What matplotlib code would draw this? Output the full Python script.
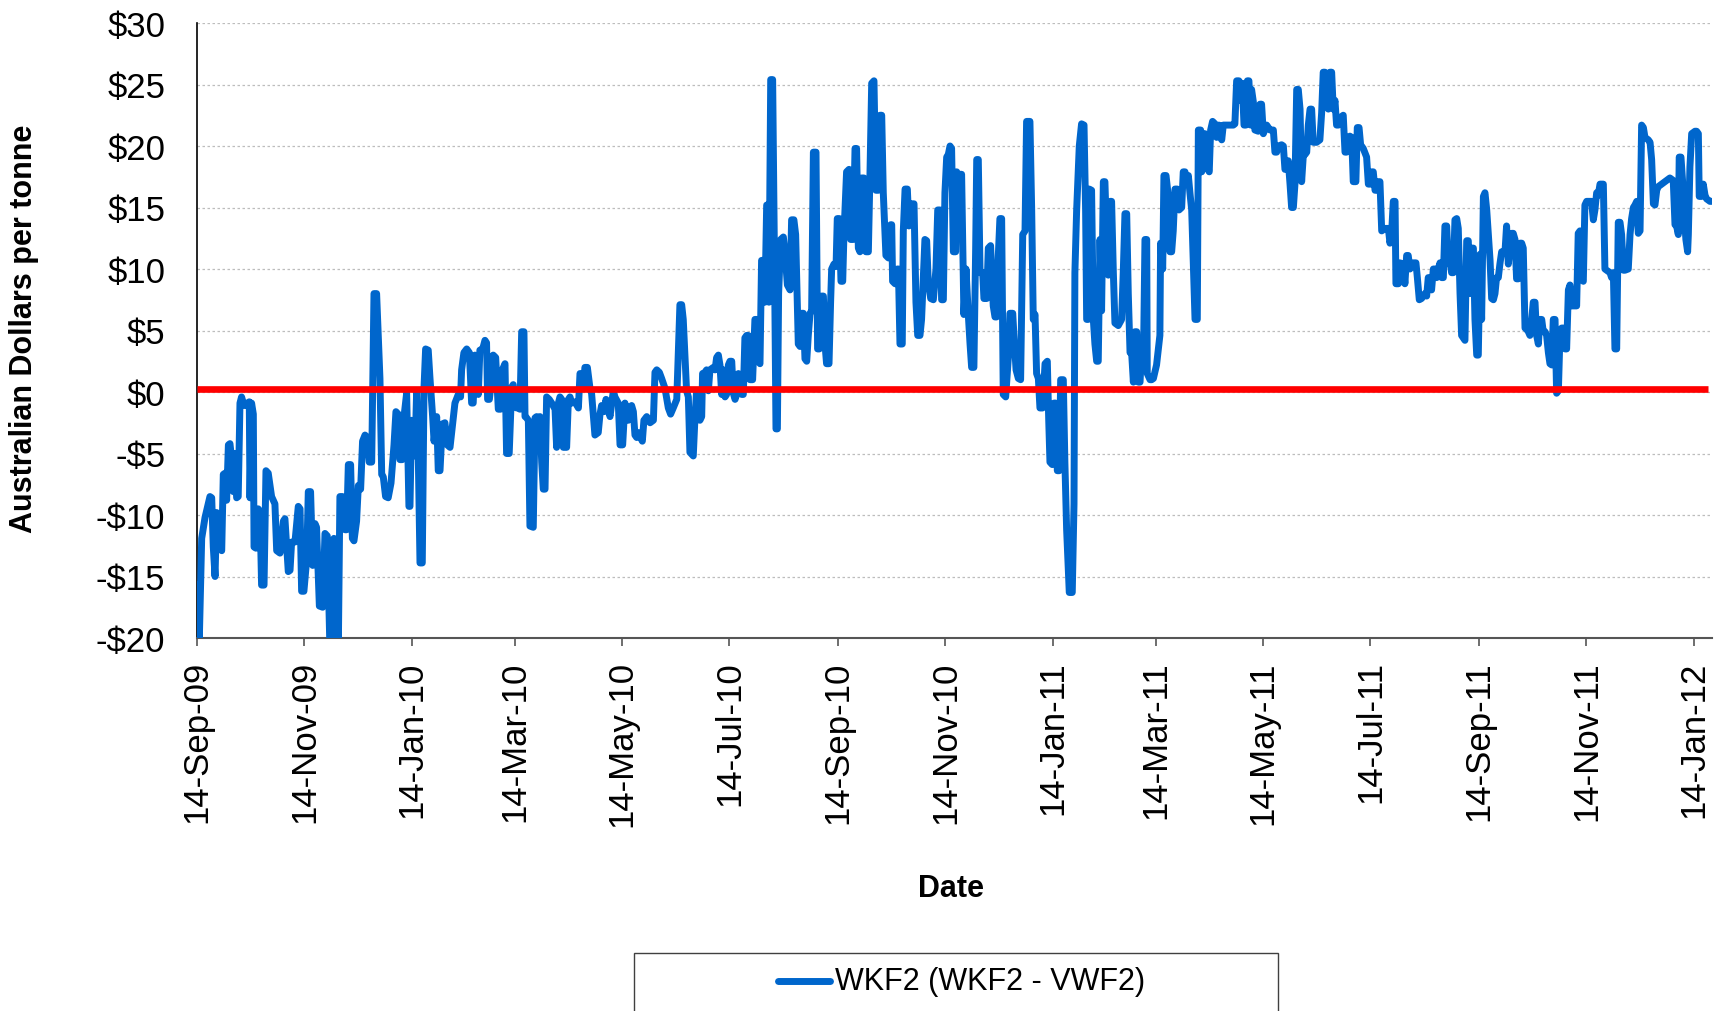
import datetime as dt
import matplotlib
matplotlib.use("Agg")
import matplotlib.pyplot as plt
from matplotlib.patches import Rectangle
from matplotlib.lines import Line2D
from matplotlib.ticker import FuncFormatter

plt.rcParams['font.family'] = ['Liberation Sans', 'DejaVu Sans']

# ---------------- data ----------------
start_date = "14-Sep-09"          # day 0 of the series
series_name = "WKF2 (WKF2 - VWF2)"

# [days after start, A$/t]
seg1 = [[0, -15.7], [1.1, -20.4], [2.5, -11.9], [4.4, -10.2], [7.2, -8.5], [8.2, -8.6], [9.1, -12.6],
        [10.1, -15.0], [11.0, -9.8], [12.0, -10.0], [12.9, -12.6], [13.9, -12.9], [14.8, -6.7], [15.8, -6.6],
        [16.7, -8.8], [17.7, -4.3], [18.6, -4.2], [19.5, -5.4], [20.5, -8.1], [21.4, -5.0], [22.4, -8.6],
        [23.3, -8.5], [24.3, -0.9], [25.2, -0.4], [26.2, -0.9], [27.1, -1.1], [28.5, -0.9], [29.6, -0.8],
        [30.0, -8.6], [30.9, -0.9], [31.9, -1.8], [32.3, -12.6], [33.4, -12.7], [34.7, -9.5], [35.7, -9.7],
        [36.6, -15.7], [38.0, -15.7], [39.1, -6.4], [40.4, -6.6], [42.3, -8.5], [44.2, -9.1], [45.2, -12.9],
        [47.1, -13.1], [49.0, -10.5], [49.9, -10.3], [51.8, -14.6], [52.8, -14.5], [53.7, -12.2], [55.6, -12.2],
        [57.5, -9.3], [58.5, -9.5], [59.4, -16.2], [60.7, -16.2], [62.3, -13.6], [63.2, -8.1], [64.5, -8.1],
        [65.7, -14.1], [67.0, -10.7], [67.9, -11.0], [69.5, -17.4], [71.4, -17.5], [72.7, -11.5], [74.0, -11.7],
        [75.5, -20.8], [77.4, -20.8], [77.8, -11.9], [79.3, -12.2], [80.3, -20.8], [81.2, -8.5], [82.7, -8.5],
        [84.1, -11.2], [85.0, -11.2], [86.0, -5.9], [87.3, -5.9], [88.3, -11.9], [89.2, -12.1], [90.7, -10.5],
        [91.7, -7.6], [93.0, -7.9], [94.1, -4.0], [95.5, -3.5], [96.8, -3.7], [97.9, -5.7], [99.3, -5.7],
        [100.6, 8.0], [102.1, 8.0], [104.0, 1.1], [105.0, -6.7], [105.9, -6.9], [107.2, -8.5], [108.7, -8.6],
        [110.3, -7.4], [112.0, -4.3], [113.1, -1.6], [114.4, -1.8], [115.4, -5.5], [116.7, -5.5], [117.7, -2.0],
        [119.2, -0.1], [120.5, -9.3], [121.1, -9.3], [122.0, -2.3], [123.0, -5.0], [123.9, -5.2], [124.9, 0.1],
        [125.8, -5.0], [126.8, -13.9], [128.1, -13.9], [129.1, 0.4], [130.0, 3.5], [131.5, 3.4], [132.5, 1.1],
        [134.0, -2.0], [134.8, -4.0], [136.3, -2.0], [137.2, -6.4], [138.2, -6.4], [139.5, -2.6], [141.0, -2.5],
        [142.3, -4.3], [143.9, -4.5], [145.4, -2.6], [146.7, -0.9], [148.6, -0.2], [149.9, -0.4], [150.5, 1.8],
        [151.8, 3.2], [153.4, 3.5], [154.9, 3.2], [156.2, -0.9], [157.1, -0.9], [158.1, 3.0], [159.0, 2.8],
        [160.0, -0.2], [160.9, 3.4], [162.5, 3.5], [163.8, 4.2], [164.7, 4.0], [165.3, -0.6], [166.3, -0.6],
        [167.6, 1.1], [168.5, 3.0], [169.9, 2.8], [171.4, -1.4], [172.7, -1.4], [173.7, 1.8], [175.2, 2.3],
        [176.1, -5.0], [177.6, -5.0]]

seg2 = [[179.0, 0.4], [179.9, 0.6], [180.9, -1.1], [181.8, -1.3], [182.8, -0.9], [183.7, -1.4], [184.7, 4.9],
        [186.0, 4.9], [186.6, -2.0], [187.5, -2.1], [188.5, -2.3], [189.4, -10.9], [191.3, -11.0], [192.3, -2.1],
        [193.2, -2.0], [194.2, -2.6], [195.1, -2.0], [196.1, -5.7], [197.0, -7.9], [198.0, -7.9], [198.9, -0.4],
        [200.4, -0.6], [201.8, -0.9], [203.7, -1.4], [204.6, -4.5], [205.6, -0.9], [206.5, -0.4], [207.5, -0.6],
        [208.4, -4.5], [210.3, -4.5], [211.3, -0.6], [212.2, -0.4], [213.2, -0.9], [215.1, -0.8], [217.0, -1.3],
        [217.9, 1.5], [218.9, 1.5], [219.8, 0.4], [220.7, 2.0], [222.1, 2.0], [223.6, 0.3], [224.5, -0.1],
        [226.4, -3.5], [228.3, -3.3], [229.3, -1.8], [230.2, -1.1], [231.6, -1.6], [232.7, -0.6], [234.0, -1.4],
        [235.0, -2.0], [236.9, 0.1], [237.8, -0.4], [239.7, -0.9], [240.7, -4.3], [242.2, -4.3], [243.5, -0.9],
        [244.5, -2.0], [245.4, -2.3], [246.4, -1.3], [247.3, -1.1], [248.3, -1.6], [249.2, -3.5], [250.2, -3.7],
        [251.1, -3.3], [252.4, -3.7], [253.4, -4.0], [254.3, -2.3], [255.9, -2.0], [257.8, -2.5], [259.7, -2.3],
        [260.6, 1.6], [261.6, 1.8], [263.1, 1.6], [264.4, 1.1], [266.3, 0.3], [268.2, -1.3], [269.5, -1.8],
        [271.0, -1.3], [273.0, -0.6], [274.8, 7.1], [275.8, 7.1], [276.7, 5.9], [278.6, 0.1], [279.6, -0.4],
        [280.5, -4.9], [282.4, -5.2], [283.4, -2.0], [284.3, 0.1], [285.3, -0.1], [286.2, -2.3], [287.2, -2.0],
        [287.7, 1.5], [288.5, 1.5], [290.0, 1.8], [291.0, 0.1], [291.9, 1.8], [293.8, 2.0], [294.8, 1.8],
        [295.7, 2.8], [296.7, 3.0], [297.6, 2.2], [298.6, -0.2], [299.5, 1.8], [300.5, -0.4], [301.4, -0.2],
        [302.4, 2.2], [303.3, 2.5], [304.3, 2.5], [305.2, -0.1], [306.2, -0.6], [307.1, -0.2], [308.1, 1.5],
        [309.0, 1.3], [310.0, -0.2], [310.9, -0.2], [311.8, 4.4], [312.8, 4.6], [313.7, 4.6], [314.7, 1.0],
        [316.2, 1.0], [317.5, 5.9], [318.5, 5.9], [319.4, 2.5], [320.4, 2.3], [321.3, 10.7], [322.3, 10.7],
        [323.2, 7.3], [324.2, 15.2], [324.8, 15.2], [325.5, 7.3], [326.5, 25.4], [327.6, 25.4], [328.6, 11.4],
        [329.5, -3.0], [330.3, -3.0], [331.0, 8.0], [332.2, 12.4], [333.7, 12.6], [334.6, 11.4], [336.0, 8.7],
        [337.5, 8.3], [338.4, 14.0], [339.7, 14.0], [340.7, 12.8], [342.2, 3.9], [343.2, 3.7], [344.1, 6.4],
        [345.1, 6.4], [346.0, 2.7], [347.0, 2.5], [347.9, 4.6], [348.9, 6.4], [349.8, 6.6], [350.8, 19.5],
        [352.3, 19.5], [353.2, 3.5], [354.2, 3.5]]

seg3 = [[355.5, 7.8], [356.5, 7.8], [357.4, 3.9], [358.3, 2.3], [359.7, 2.3], [360.6, 7.3], [361.2, 10.0],
        [362.5, 10.4], [363.7, 10.2], [364.4, 14.1], [365.6, 14.1], [366.5, 9.0], [367.5, 9.0], [368.2, 12.8],
        [369.7, 17.9], [371.1, 18.1], [372.0, 12.4], [373.5, 12.4], [374.5, 19.8], [375.4, 19.8], [376.4, 11.7],
        [377.3, 11.4], [378.3, 17.4], [379.6, 17.4], [380.7, 11.4], [382.1, 11.4], [383.0, 17.6], [384.0, 25.1],
        [385.3, 25.3], [386.4, 16.4], [387.8, 16.4], [388.7, 22.5], [389.7, 22.5], [390.6, 16.2], [392.1, 11.1],
        [393.5, 10.9], [394.8, 13.6], [395.4, 13.6], [395.9, 9.0], [397.3, 8.8], [398.6, 10.0], [399.2, 10.0],
        [400.1, 3.9], [401.4, 3.9], [402.0, 13.1], [403.0, 16.5], [404.3, 16.5], [405.2, 13.5], [406.4, 15.3],
        [408.1, 15.3], [409.2, 7.3], [410.2, 4.6], [411.5, 4.6], [412.4, 5.9], [414.3, 12.4], [415.3, 12.3],
        [416.2, 9.0], [417.6, 7.6], [419.1, 7.5], [420.6, 10.0], [421.6, 14.8], [422.9, 14.8], [423.8, 7.5],
        [424.8, 7.5], [425.7, 16.2], [426.7, 19.1], [427.6, 19.3], [428.6, 20.0], [429.5, 19.8], [430.5, 11.4],
        [431.8, 11.4], [432.4, 17.9], [433.3, 15.5], [434.3, 17.7], [435.2, 17.7], [436.2, 9.0], [436.5, 6.3],
        [437.7, 10.0], [439.0, 6.3], [440.0, 3.9], [440.9, 2.0], [442.2, 2.0], [443.2, 11.7], [443.8, 18.9],
        [444.7, 18.9], [445.7, 9.7], [447.2, 9.7], [447.9, 7.6], [449.5, 7.6], [450.4, 11.7], [451.7, 11.9],
        [453.2, 7.0], [454.2, 6.1], [455.1, 6.1], [456.1, 11.1], [457.0, 14.1], [458.0, 14.1], [458.9, -0.2],
        [460.3, -0.4], [461.8, 2.8], [462.7, 6.4], [464.3, 6.4], [465.0, 4.6], [466.2, 1.8], [467.5, 1.1],
        [468.8, 1.0], [470.0, 12.8], [471.3, 13.1], [472.2, 22.0], [474.1, 22.0], [475.1, 14.8], [476.0, 5.9],
        [477.0, 6.3], [477.9, 1.5], [478.9, 1.1], [479.8, -1.3], [481.3, -1.3], [482.7, 2.3], [484.0, 2.5],
        [484.8, -2.3], [485.5, -5.7], [486.8, -5.9], [487.8, -0.9], [488.7, -0.9], [489.7, -6.4], [490.8, -6.4],
        [491.6, 1.0], [493.1, 1.0], [494.0, -5.7], [495.0, -11.2], [496.5, -16.3], [498.2, -16.3], [499.2, -9.1],
        [499.7, 9.7], [500.7, 14.8], [502.2, 20.0], [503.5, 21.8], [504.9, 21.7], [505.8, 14.8], [506.4, 5.9],
        [507.3, 5.9], [507.9, 16.5], [509.2, 16.4], [510.2, 5.9], [511.1, 3.9], [512.1, 2.5], [513.0, 2.5],
        [514.0, 12.4], [514.9, 6.6], [515.9, 17.1], [516.8, 17.1], [517.8, 12.4], [518.7, 9.5], [519.7, 15.5],
        [520.6, 15.5], [521.6, 9.7], [522.5, 5.6], [524.4, 5.4], [526.3, 5.9], [527.3, 10.0], [528.2, 14.5],
        [529.2, 14.5], [530.1, 8.0], [531.1, 3.2]]

seg4 = [[532.0, 3.2], [533.0, 0.8], [533.9, 4.9], [534.9, 4.9], [535.8, 0.8], [536.8, 0.8], [537.7, 3.5],
        [538.7, 2.2], [539.6, 12.4], [540.6, 12.4], [540.9, 1.5], [542.5, 1.0], [543.4, 1.0], [544.4, 1.1],
        [546.2, 2.2], [548.1, 4.6], [548.5, 12.1], [549.7, 10.0], [550.4, 17.6], [551.6, 17.6], [552.9, 15.9],
        [553.8, 11.4], [554.8, 11.4], [555.7, 13.1], [556.7, 16.5], [558.0, 16.5], [559.0, 14.8], [560.5, 15.0],
        [561.4, 17.9], [562.4, 17.9], [563.3, 16.9], [564.3, 17.6], [565.2, 16.2], [566.2, 14.8], [567.1, 10.7],
        [568.1, 5.9], [569.4, 5.9], [570.0, 21.3], [571.3, 21.3], [571.9, 17.9], [572.8, 21.0], [573.8, 21.0],
        [574.7, 18.3], [576.2, 17.9], [577.0, 21.3], [578.1, 22.0], [579.5, 21.8], [580.4, 20.7], [581.7, 21.7],
        [583.3, 20.5], [584.2, 21.7], [586.1, 21.7], [588.0, 21.7], [589.9, 21.7], [590.8, 21.8], [591.8, 25.3],
        [593.1, 25.3], [594.1, 23.7], [595.0, 25.1], [596.0, 21.7], [597.1, 21.7], [597.9, 25.3], [598.8, 25.3],
        [599.8, 21.7], [600.3, 24.6], [601.3, 23.6], [602.2, 21.3], [604.1, 21.2], [605.1, 23.4], [606.0, 23.4],
        [607.0, 21.0], [608.9, 21.7], [610.8, 21.3], [612.7, 21.3], [613.6, 19.5], [614.6, 19.5], [615.5, 20.0],
        [617.4, 20.1], [618.4, 20.0], [619.3, 18.1], [620.3, 18.1], [621.2, 18.8], [622.2, 16.9], [623.1, 15.0],
        [624.1, 15.0], [625.0, 16.9], [626.0, 24.6], [626.9, 24.6], [627.9, 23.0], [628.8, 17.1], [629.8, 19.3],
        [630.7, 19.3], [631.7, 19.5], [632.6, 21.7], [633.6, 23.0], [634.5, 23.0], [635.4, 20.3], [637.3, 20.3],
        [639.2, 20.5], [640.2, 22.7], [641.1, 26.0], [642.1, 26.0], [643.0, 25.8], [644.0, 23.0], [644.9, 26.0],
        [645.9, 26.0], [646.8, 23.0], [647.8, 23.7], [648.7, 21.7], [649.7, 21.7], [650.6, 22.0], [651.6, 22.4],
        [652.5, 22.5], [653.5, 19.5], [654.4, 19.5], [655.4, 20.7], [656.3, 20.8], [657.3, 20.7], [658.2, 17.1],
        [659.7, 17.1], [660.5, 21.5], [661.5, 21.5], [662.4, 20.1], [663.9, 19.8], [665.8, 19.1], [666.8, 16.9],
        [668.1, 16.9], [668.7, 17.9], [669.6, 17.9], [670.6, 16.4], [671.5, 16.4], [672.5, 17.1], [673.4, 17.1],
        [674.4, 13.1], [676.3, 13.3], [678.2, 13.3], [679.1, 12.1], [680.0, 12.8], [681.0, 15.5], [682.0, 15.5],
        [682.5, 8.8], [683.9, 8.8], [684.8, 10.5], [686.7, 10.4], [687.6, 8.8], [688.6, 11.1], [689.5, 11.1],
        [690.5, 10.0]]

seg5 = [[692.4, 10.5], [693.9, 10.5], [694.7, 9.3], [695.8, 7.5], [697.1, 7.6], [699.0, 8.0], [700.0, 7.8],
        [700.9, 9.3], [701.9, 9.3], [702.8, 8.3], [703.8, 10.0], [704.7, 10.0], [705.7, 9.3], [706.6, 10.0],
        [707.6, 10.5], [708.5, 9.3], [709.5, 9.3], [710.4, 13.5], [711.4, 13.5], [712.3, 10.5], [713.3, 10.7],
        [714.2, 9.7], [715.2, 9.7], [716.1, 14.0], [717.1, 14.1], [718.0, 13.3], [719.0, 8.0], [719.9, 4.6],
        [721.8, 4.2], [722.8, 12.3], [723.7, 12.3], [724.7, 8.0], [725.6, 11.7], [726.6, 11.7], [727.5, 5.9],
        [728.5, 3.0], [729.4, 3.0], [730.4, 11.2], [731.3, 5.9], [732.3, 15.9], [733.2, 16.2], [734.2, 14.8],
        [736.1, 10.7], [737.0, 7.6], [738.0, 7.5], [738.9, 8.0], [739.8, 9.3], [740.8, 9.3], [741.7, 10.4],
        [742.7, 11.4], [744.6, 11.4], [745.5, 13.5], [746.5, 10.4], [747.4, 11.7], [748.4, 12.9], [749.3, 12.9],
        [750.3, 12.4], [751.2, 9.2], [752.2, 9.2], [753.1, 12.1], [754.1, 12.1], [755.0, 11.7], [756.0, 5.2],
        [756.9, 5.1], [757.9, 4.9], [758.8, 4.6], [759.8, 5.9], [760.7, 7.3], [761.7, 7.3], [762.6, 4.6],
        [763.6, 3.9], [764.5, 5.9], [765.5, 5.9], [766.4, 4.9], [767.4, 4.9], [768.3, 4.6], [769.3, 3.2],
        [770.2, 2.3], [771.2, 2.2], [772.1, 5.9], [773.1, 5.9], [774.0, -0.1], [775.0, 0.1], [775.9, 4.6],
        [776.9, 5.2], [777.8, 5.2], [778.8, 3.5], [779.7, 3.5], [780.7, 8.3], [781.6, 8.7], [782.5, 7.0],
        [785.4, 7.0], [786.3, 12.9], [787.3, 13.1], [788.2, 9.2], [789.2, 9.0], [790.1, 15.2], [791.1, 15.5],
        [793.9, 15.5], [794.9, 14.0], [795.8, 14.8], [796.8, 16.2], [797.7, 16.0], [798.7, 16.9], [800.6, 16.9],
        [801.5, 10.0], [802.5, 9.9], [804.4, 9.7], [805.3, 9.3], [806.3, 9.7], [807.2, 3.5], [808.2, 3.5],
        [809.1, 13.8], [810.1, 13.8], [811.0, 12.8], [812.0, 9.9], [812.9, 9.9], [814.8, 10.0], [815.8, 12.8],
        [816.7, 14.1], [817.7, 15.0], [818.6, 15.2], [819.6, 15.5], [820.5, 12.9], [821.5, 13.1], [822.4, 21.7],
        [823.4, 21.5], [824.3, 20.7], [826.2, 20.5], [827.2, 20.3], [828.1, 18.9], [829.1, 15.3], [830.0, 15.2],
        [831.0, 16.4], [831.9, 16.7], [833.8, 16.9], [835.7, 17.1], [838.5, 17.4], [840.4, 17.2], [841.4, 13.6],
        [842.3, 13.5], [843.3, 12.8], [843.8, 19.1], [844.8, 19.1], [845.7, 17.2], [846.5, 14.8], [847.6, 12.4],
        [848.6, 11.4], [849.0, 12.8], [849.9, 18.3], [850.9, 21.0], [852.8, 21.2], [853.7, 21.2], [854.7, 21.0],
        [855.2, 15.9], [856.6, 15.9], [857.5, 16.9], [858.5, 16.0], [859.4, 15.7], [861.3, 15.5], [863.2, 15.5]]

ref_days = [0, 860]       # red reference line
ref_vals = [0.27, 0.27]

tick_labels = ["14-Sep-09", "14-Nov-09", "14-Jan-10", "14-Mar-10", "14-May-10", "14-Jul-10",
               "14-Sep-10", "14-Nov-10", "14-Jan-11", "14-Mar-11", "14-May-11", "14-Jul-11",
               "14-Sep-11", "14-Nov-11", "14-Jan-12"]
y_ticks = [-20, -15, -10, -5, 0, 5, 10, 15, 20, 25, 30]
x_end_day = 862.3

# ---------------- build ----------------
t0 = dt.datetime.strptime(start_date, "%d-%b-%y")
pts = seg1 + seg2 + seg3 + seg4 + seg5
dates = [t0 + dt.timedelta(days=p[0]) for p in pts]
vals = [p[1] for p in pts]
ref_dates = [t0 + dt.timedelta(days=d) for d in ref_days]
tick_dates = [dt.datetime.strptime(s, "%d-%b-%y") for s in tick_labels]

W, H = 1725, 1012
fig = plt.figure(figsize=(W / 100, H / 100), dpi=100)
ax = fig.add_axes([197.3 / W, 1 - 639 / H, (1711.7 - 197.3) / W, (639 - 24) / H])

blue = '#0066CC'
ax.plot(dates, vals, color=blue, lw=5.0, solid_joinstyle='round', solid_capstyle='round', zorder=3)
ax.plot(ref_dates, ref_vals, color='#FF0000', lw=4.8, solid_capstyle='butt', zorder=4)

ax.set_xlim(t0, t0 + dt.timedelta(days=x_end_day))
ax.set_ylim(-20, 30)
ax.set_yticks(y_ticks)
ax.yaxis.set_major_formatter(FuncFormatter(lambda v, p: ('-$%d' % -v) if v < 0 else ('$%d' % v)))
ax.set_xticks(tick_dates)
ax.set_xticklabels(tick_labels, rotation=90)

ax.yaxis.grid(True, linestyle=(0, (2, 2)), color='#BDBDBD', lw=0.9)
ax.set_axisbelow(True)
for s in ('top', 'right'):
    ax.spines[s].set_visible(False)
ax.spines['left'].set_color('black')
ax.spines['left'].set_linewidth(1.2)
ax.spines['bottom'].set_color('#555555')
ax.spines['bottom'].set_linewidth(1.5)

ax.tick_params(axis='y', length=0, pad=23, labelsize=25, colors='black')
ax.tick_params(axis='x', length=6, width=1.2, color='#555555', pad=10, labelsize=25, labelcolor='black')

ax.set_ylabel("Australian Dollars per tonne", fontsize=22, fontweight='bold', va='center')
ax.yaxis.set_label_coords((24 - 197.3) / (1711.7 - 197.3), 0.505)
ax.set_xlabel("Date", fontsize=22, fontweight='bold', va='center')
ax.xaxis.set_label_coords((951 - 197.3) / (1711.7 - 197.3), (639 - 889) / 615)

# legend box (extends past bottom edge as in the original)
lx0, lx1, ly0 = 634 / W, 1278 / W, 1 - 954 / H
fig.patches.append(Rectangle((lx0, -0.05), lx1 - lx0, ly0 + 0.05, transform=fig.transFigure,
                             fill=False, edgecolor='#404040', lw=1.0))
ly = 1 - 982 / H
fig.lines.append(Line2D([778 / W, 830 / W], [ly, ly], transform=fig.transFigure, color=blue,
                        lw=5, solid_capstyle='round'))
fig.text(835 / W, ly, series_name, fontsize=22, va='center', ha='left')

fig.savefig("out.png", dpi=100)
